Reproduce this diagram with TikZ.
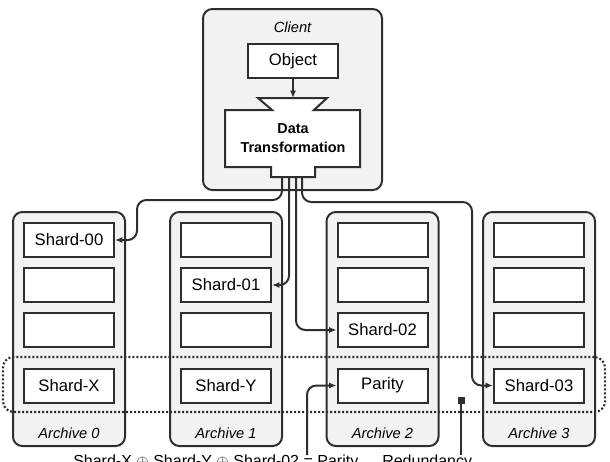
\documentclass[tikz,border=0pt]{standalone}
\usepackage{xcolor}
\usepackage{fontspec}
\setmainfont{Liberation Sans}
\usepackage{tikz}
\usetikzlibrary{arrows.meta}

\definecolor{boxgray}{HTML}{F2F2F2}
\definecolor{linegray}{HTML}{2E2E2E}

\tikzset{
  archive/.style={draw=linegray, fill=boxgray, line width=1.5pt, rounded corners=7pt, inner sep=0pt},
  shard/.style={draw=linegray, fill=white, line width=1.5pt, minimum width=67.5pt, minimum height=25.5pt, inner sep=0pt, font=\fontsize{12.5}{14}\selectfont},
  caption/.style={inner sep=0pt, font=\fontsize{11}{13}\selectfont\itshape},
  wire/.style={draw=linegray, line width=1.5pt, rounded corners=7pt},
  tip/.style={-{Latex[length=5.5pt,width=4.5pt]}}
}

\begin{document}
\begin{tikzpicture}[x=0.75pt,y=0.75pt,yscale=-1,xscale=1]
\useasboundingbox (0,0) rectangle (610,461);

%Client
\node[archive, minimum width=134.25pt, minimum height=135.75pt] (client) at (292.5,99.5) {};
\node[caption] (clientlabel) at (292.5,27) {Client};
\node[shard] (object) at (293,61) {Object};

%Data transformation funnel
\draw[draw=linegray, fill=white, line width=1.5pt] (258,98) -- (327,98) -- (314,110) -- (360,110) -- (360,167) -- (315,167) -- (315,177) -- (271,177) -- (271,167) -- (225,167) -- (225,110) -- (272,110) -- cycle ;
\coordinate (ftop) at (293,98);
\node[inner sep=0pt, align=center, font=\fontsize{10.8}{14.25}\selectfont\bfseries] (transform) at (293,138) {Data\\Transformation};
\coordinate (n1) at (282,177);
\coordinate (n2) at (289,177);
\coordinate (n3) at (296,177);
\coordinate (n4) at (302,177);

%Archives
\node[archive, minimum width=84pt, minimum height=175.5pt] (arch0) at (69,329) {};
\node[archive, minimum width=84pt, minimum height=175.5pt] (arch1) at (226,329) {};
\node[archive, minimum width=84pt, minimum height=175.5pt] (arch2) at (382.5,329) {};
\node[archive, minimum width=84pt, minimum height=175.5pt] (arch3) at (539,329) {};
\node[caption] (archlabel0) at (69,433) {Archive 0};
\node[caption] (archlabel1) at (226,433) {Archive 1};
\node[caption] (archlabel2) at (382.5,433) {Archive 2};
\node[caption] (archlabel3) at (539,433) {Archive 3};

%Redundancy group
\node[draw=linegray, line width=1.6pt, dash pattern=on 1.5pt off 1.5pt, rounded corners=8pt, minimum width=451.5pt, minimum height=41.25pt, inner sep=0pt] (group) at (304,384.5) {};

%Shards
\node[shard] (a0r1) at (69,240) {Shard-00};
\node[shard] (a0r2) at (69,285) {};
\node[shard] (a0r3) at (69,330) {};
\node[shard] (a0r4) at (69,385.5) {Shard-X};
\node[shard] (a1r1) at (226,240) {};
\node[shard] (a1r2) at (226,285) {Shard-01};
\node[shard] (a1r3) at (226,330) {};
\node[shard] (a1r4) at (226,385.5) {Shard-Y};
\node[shard] (a2r1) at (382.5,240) {};
\node[shard] (a2r2) at (382.5,285) {};
\node[shard] (a2r3) at (382.5,330) {Shard-02};
\node[shard] (a2r4) at (382.5,385.5) {Parity};
\node[shard] (a3r1) at (539,240) {};
\node[shard] (a3r2) at (539,285) {};
\node[shard] (a3r3) at (539,330) {};
\node[shard] (a3r4) at (539,385.5) {Shard-03};

%Connectors
\draw[wire,tip] (object.south) -- (ftop);
\draw[wire,tip] (n1) |- (137,200) |- (a0r1.east);
\draw[wire,tip] (n2) |- (a1r2.east);
\draw[wire,tip] (n3) |- (a2r3.west);
\draw[wire,tip] (n4) |- (472,202) |- (a3r4.west);

%Bottom labels
\coordinate (parend) at (307,455);
\draw[wire,tip] (parend) |- (a2r4.west);
\node[fill=linegray, minimum size=5.25pt, inner sep=0pt] (groupmark) at (461,400) {};
\coordinate (groupend) at (461,455);
\draw[wire] (groupmark) -- (groupend);
\node[anchor=base west, inner sep=0pt, font=\fontsize{12}{14}\selectfont] (xorlabel) at (73,466) {Shard-X $\oplus$ Shard-Y $\oplus$ Shard-02 = Parity};
\node[anchor=base west, inner sep=0pt, font=\fontsize{12}{14}\selectfont] (grouplabel) at (382,466) {Redundancy};

\end{tikzpicture}
\end{document}
